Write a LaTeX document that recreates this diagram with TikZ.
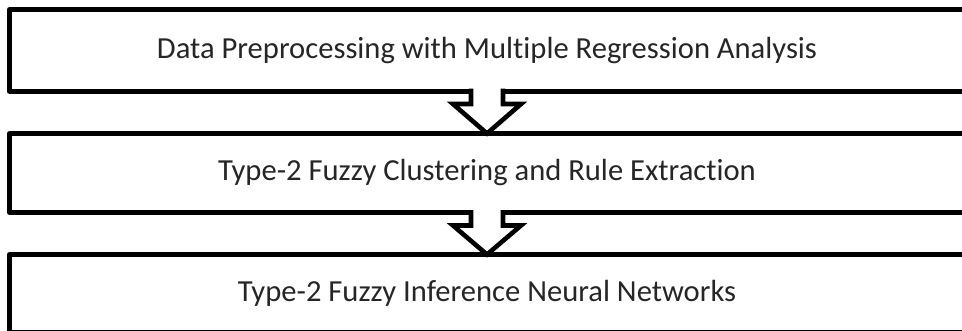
\documentclass[tikz,border=0pt]{standalone}
\usepackage{fontspec}
\setmainfont[Ligatures=NoCommon]{Carlito}
\usetikzlibrary{calc}
\begin{document}
\begin{tikzpicture}[x=1pt,y=1pt,
  stagebox/.style={draw=black, line width=5pt, fill=white, rectangle, inner sep=0pt, outer sep=0pt,
    minimum width=955pt, font=\fontsize{30.6}{37}\selectfont, text=black!85, line join=round},
  blockline/.style={draw=black, line width=4.6pt, line join=miter},
]
\useasboundingbox (0,0) rectangle (962,-330);
\node[stagebox, minimum height=81.5pt] (b1) at (487,-50.25) {Data Preprocessing with Multiple Regression Analysis};
\node[stagebox, minimum height=79pt] (b2) at (487,-173) {Type-2 Fuzzy Clustering and Rule Extraction};
\node[stagebox, minimum height=78pt] (b3) at (487,-293.5) {Type-2 Fuzzy Inference Neural Networks};
% arrow 1
\fill[white] ($(b1.south)+(-16,2.5)$) -- ($(b1.south)+(-16,-13)$) -- ($(b1.south)+(-34,-13)$) -- (b2.north)
  -- ($(b1.south)+(34,-13)$) -- ($(b1.south)+(16,-13)$) -- ($(b1.south)+(16,2.5)$) -- cycle;
\draw[blockline] ($(b1.south)+(-16,2.5)$) -- ($(b1.south)+(-16,-13)$) -- ($(b1.south)+(-34,-13)$) -- (b2.north)
  -- ($(b1.south)+(34,-13)$) -- ($(b1.south)+(16,-13)$) -- ($(b1.south)+(16,2.5)$);
% arrow 2
\fill[white] ($(b2.south)+(-16,2.5)$) -- ($(b2.south)+(-16,-13)$) -- ($(b2.south)+(-34,-13)$) -- (b3.north)
  -- ($(b2.south)+(34,-13)$) -- ($(b2.south)+(16,-13)$) -- ($(b2.south)+(16,2.5)$) -- cycle;
\draw[blockline] ($(b2.south)+(-16,2.5)$) -- ($(b2.south)+(-16,-13)$) -- ($(b2.south)+(-34,-13)$) -- (b3.north)
  -- ($(b2.south)+(34,-13)$) -- ($(b2.south)+(16,-13)$) -- ($(b2.south)+(16,2.5)$);
\end{tikzpicture}
\end{document}
